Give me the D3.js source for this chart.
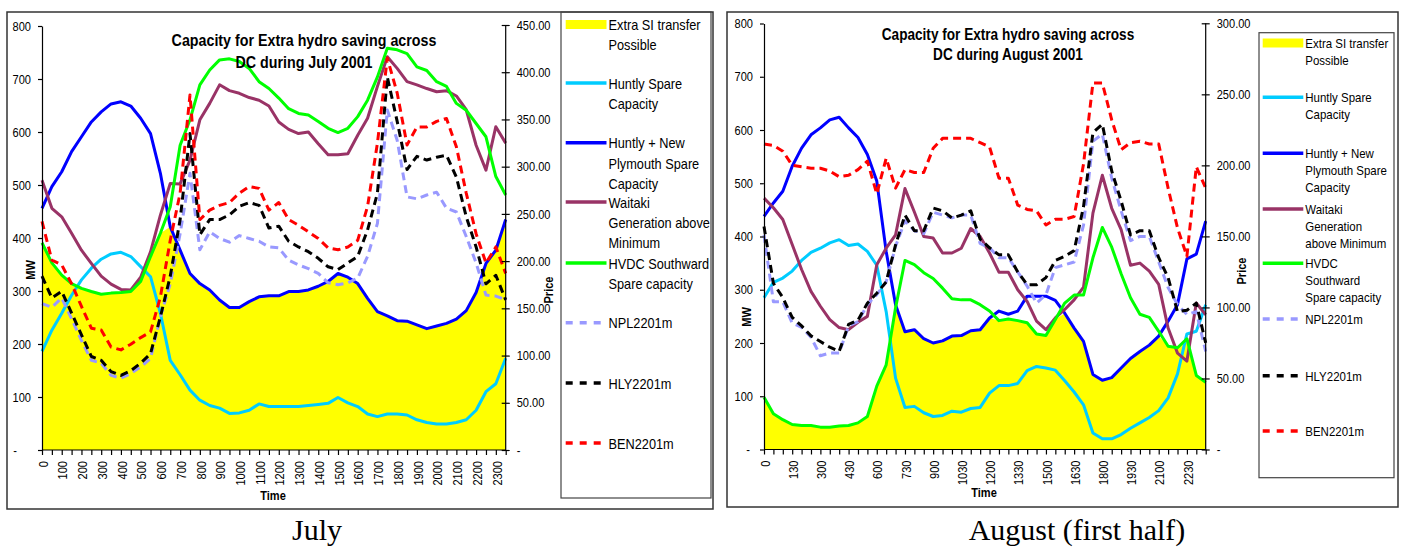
<!DOCTYPE html>
<html>
<head>
<meta charset="utf-8">
<script src="https://cdn.jsdelivr.net/npm/d3@7"></script>
<style>
  body { margin: 0; background: #fff; }
  svg text { font-family: Arial, "Liberation Sans", sans-serif; fill: #000; }
</style>
</head>
<body>
<svg id="chart" width="1403" height="552"></svg>
<script>
/* DATA */
// half-hourly trading periods
const times = ["0","30","100","130","200","230","300","330","400","430","500","530",
  "600","630","700","730","800","830","900","930","1000","1030","1100","1130",
  "1200","1230","1300","1330","1400","1430","1500","1530","1600","1630","1700","1730",
  "1800","1830","1900","1930","2000","2030","2100","2130","2200","2230","2300","2330"];

const mwTicks = [0, 100, 200, 300, 400, 500, 600, 700, 800];
const julyPriceTicks = [0, 50, 100, 150, 200, 250, 300, 350, 400, 450];
const augPriceTicks = [0, 50, 100, 150, 200, 250, 300];

const seriesNames = ["Extra SI transfer Possible", "Huntly Spare Capacity",
  "Huntly + New Plymouth Spare Capacity", "Waitaki Generation above Minimum",
  "HVDC Southward Spare capacity", "NPL2201m", "HLY2201m", "BEN2201m"];

// legend text as it wraps in each chart
const julyLegendLines = [["Extra SI transfer", "Possible"], ["Huntly Spare", "Capacity"],
  ["Huntly + New", "Plymouth Spare", "Capacity"], ["Waitaki", "Generation above", "Minimum"],
  ["HVDC Southward", "Spare capacity"], ["NPL2201m"], ["HLY2201m"], ["BEN2201m"]];
const augLegendLines = [["Extra SI transfer", "Possible"], ["Huntly Spare", "Capacity"],
  ["Huntly + New", "Plymouth Spare", "Capacity"], ["Waitaki", "Generation", "above Minimum"],
  ["HVDC", "Southward", "Spare capacity"], ["NPL2201m"], ["HLY2201m"], ["BEN2201m"]];

// July 2001 (MW)
const julyExtraSI = [391,353,330,314,305,299,294,296,297,299,318,365,409,421,377,333,314,302,283,269,269,280,289,291,
  291,299,299,302,309,318,333,326,314,286,261,253,244,243,236,229,234,239,247,263,297,352,377,435];
const julyHuntlySpare = [186,226,258,292,321,343,360,370,373,365,346,327,258,169,142,113,94,84,79,69,70,75,87,82,
  82,82,82,84,86,88,99,89,82,68,63,68,68,66,57,52,49,49,52,57,75,110,125,173];
const julyHuntlyNP = [456,497,525,563,591,619,638,653,657,649,626,597,522,421,377,333,314,302,283,269,269,280,289,291,
  291,299,299,302,309,318,333,326,314,286,261,253,244,243,236,229,234,239,247,263,297,352,377,435];
const julyWaitaki = [509,456,440,409,377,352,328,313,303,302,326,374,443,503,502,547,623,654,689,678,673,665,660,649,
  619,605,597,600,578,557,557,559,594,626,686,742,720,695,689,682,676,678,668,642,575,528,610,579];
const julyHVDC = [391,353,330,314,305,299,294,296,297,299,318,365,409,459,575,623,689,717,736,738,733,720,695,682,
  664,644,635,632,620,607,599,607,629,660,704,758,755,748,723,716,695,686,654,641,616,591,516,481];
// July 2001 (price)
const julyNPL = [155,151,161,139,116,95,92,79,76,81,88,97,141,176,229,293,212,231,224,220,227,224,221,215,
  214,201,196,192,187,177,175,177,182,205,240,360,328,268,266,270,273,256,252,226,198,164,163,159];
const julyHLY = [184,161,168,145,122,99,95,83,79,84,92,102,141,184,244,335,228,244,244,249,258,262,259,235,
  237,221,215,210,203,194,191,198,205,233,272,395,348,297,311,307,310,312,289,247,215,176,185,159];
const julyBEN = [242,201,196,176,152,129,127,109,106,112,119,125,162,222,272,376,244,254,259,262,272,279,277,254,
  262,244,238,231,224,214,212,215,222,258,325,415,378,323,342,342,348,351,321,272,229,198,215,187];

// August 2001, first half (MW)
const augExtraSI = [98,67,56,47,45,45,42,42,44,45,50,62,119,159,266,221,225,208,200,204,213,214,223,225,
  247,242,245,242,238,217,214,244,256,228,203,141,130,135,153,171,184,196,213,194,191,208,139,126];
const augHuntlySpare = [285,314,322,335,355,370,378,388,394,383,386,372,346,259,134,79,81,69,62,64,72,70,77,79,
  106,120,120,124,148,156,153,149,129,108,84,31,20,20,28,40,50,60,73,97,142,217,222,272];
const augHuntlyNP = [438,463,485,532,566,591,604,619,624,604,586,554,504,372,272,221,225,208,200,204,213,214,223,225,
  247,260,254,260,288,288,288,280,256,228,203,141,130,135,153,171,184,196,213,241,272,358,367,429];
const augWaitaki = [472,454,432,385,338,297,269,244,229,225,239,250,347,378,403,490,446,400,397,369,369,378,415,400,
  369,333,333,300,278,241,225,247,263,281,305,444,515,453,413,346,350,335,310,228,181,166,275,253];
const augHVDC = [98,67,56,47,45,45,42,42,44,45,50,62,119,159,266,355,347,332,321,303,283,281,281,272,
  260,242,245,242,238,217,214,244,275,290,290,360,417,380,330,285,254,248,222,194,191,208,139,126];
// August 2001 (price)
const augNPL = [151,104,104,89,86,79,66,68,68,87,90,102,109,118,143,161,154,152,167,165,163,165,165,145,
  142,135,135,125,115,103,109,128,130,132,158,217,222,191,168,147,150,150,132,114,102,95,97,69];
const augHLY = [157,117,107,93,87,80,76,72,69,88,91,103,110,118,144,165,154,154,170,168,163,165,168,148,
  142,137,137,125,116,116,121,133,136,140,171,223,229,196,175,151,154,154,135,121,97,98,103,75];
const augBEN = [215,214,210,200,199,198,198,196,192,193,197,203,180,205,184,197,195,195,212,219,219,219,219,216,
  213,191,191,172,169,168,158,162,162,164,201,258,258,232,211,216,217,215,215,184,156,136,199,184];

/* STYLES */
const colors = ["#ffff00", "#00ccff", "#0000ff", "#993366", "#00ff00", "#9999ff", "#000000", "#ff0000"];
const dashed = [false, false, false, false, false, true, true, true];
const NARROW = 0.85; // the original uses a condensed face, squeeze Arial to match

const svg = d3.select("#chart");

// squeeze text horizontally, keeps its anchor
function condense(sel, f) {
  sel.each(function () {
    const len = this.getComputedTextLength();
    if (len > 0) d3.select(this).attr("textLength", len * f).attr("lengthAdjust", "spacingAndGlyphs");
  });
}

function drawChart(cfg) {
  const g = svg.append("g");

  // outer frame
  g.append("rect")
    .attr("x", cfg.frame[0]).attr("y", cfg.frame[1])
    .attr("width", cfg.frame[2]).attr("height", cfg.frame[3])
    .attr("fill", "none").attr("stroke", "#333").attr("stroke-width", 1.5);

  const x = d3.scalePoint().domain(times).range([cfg.left, cfg.right]);
  const yMW = d3.scaleLinear().domain([0, 800]).range([cfg.bottom, cfg.top]);
  const yPrice = d3.scaleLinear().domain([0, cfg.priceMax]).range([cfg.bottom, cfg.priceTop]);

  // yellow area
  g.append("path")
    .datum(cfg.values[0])
    .attr("fill", colors[0])
    .attr("d", d3.area()
      .x((d, i) => x(times[i]))
      .y0(yMW(0))
      .y1(d => yMW(d)));

  // lines, MW series then price series
  const line = scale => d3.line().x((d, i) => x(times[i])).y(d => scale(d));
  cfg.values.slice(1).forEach((vals, k) => {
    const s = k + 1;
    g.append("path")
      .datum(vals)
      .attr("fill", "none")
      .attr("stroke", colors[s])
      .attr("stroke-width", 3)
      .attr("stroke-linejoin", "round")
      .attr("stroke-dasharray", dashed[s] ? "8,5" : null)
      .attr("d", line(s >= 5 ? yPrice : yMW));
  });

  // left axis (MW)
  const gL = g.append("g")
    .attr("transform", `translate(${cfg.left},0)`)
    .call(d3.axisLeft(yMW).tickValues(mwTicks).tickSize(4).tickSizeOuter(0).tickPadding(7)
      .tickFormat(d => d === 0 ? "-" : d));
  gL.selectAll("text").attr("font-size", 13).attr("font-family", null);
  gL.selectAll(".tick").filter(d => d === 0).select("text").attr("x", cfg.zeroX);

  // right axis (price)
  const gR = g.append("g")
    .attr("transform", `translate(${cfg.right},0)`)
    .call(d3.axisRight(yPrice).tickValues(cfg.priceTicks).tickSize(4).tickSizeOuter(0).tickPadding(7)
      .tickFormat(d => d === 0 ? "-" : d3.format(".2f")(d)));
  gR.selectAll(".tick line").attr("x1", -4).attr("x2", 4);
  gR.selectAll("text").attr("font-size", 13).attr("font-family", null);
  gR.select(".domain").attr("d", `M0,${cfg.priceTop}V${cfg.bottom}`);

  // bottom axis (time)
  const gB = g.append("g")
    .attr("transform", `translate(0,${cfg.bottom})`)
    .call(d3.axisBottom(x).tickSize(5).tickSizeOuter(0)
      .tickFormat((d, i) => i % cfg.labelEvery === 0 ? d : ""));
  gB.selectAll("text")
    .attr("font-size", 13).attr("font-family", null)
    .attr("transform", "rotate(-90)")
    .attr("text-anchor", "end")
    .attr("x", -11).attr("y", 0).attr("dy", "0.4em");
  gB.select(".domain").attr("d", `M${cfg.left},0H${cfg.right}`);

  g.selectAll(".domain, .tick line").attr("stroke", "#000").attr("stroke-width", 1.2);
  condense(g.selectAll(".tick text"), NARROW);

  // axis titles
  const titles = g.append("g").attr("font-weight", "bold").attr("font-size", 13);
  titles.append("text").text("MW")
    .attr("transform", `translate(${cfg.mwLabel[0]},${cfg.mwLabel[1]}) rotate(-90)`)
    .attr("text-anchor", "middle");
  titles.append("text").text("Price")
    .attr("transform", `translate(${cfg.priceLabel[0]},${cfg.priceLabel[1]}) rotate(-90)`)
    .attr("text-anchor", "middle");
  titles.append("text").text("Time")
    .attr("x", cfg.timeLabel[0]).attr("y", cfg.timeLabel[1])
    .attr("text-anchor", "middle");
  condense(titles.selectAll("text"), NARROW);

  // chart title
  const head = g.append("g");
  cfg.title.forEach((t, i) => {
    head.append("text").text(t)
      .attr("x", cfg.titlePos[0]).attr("y", cfg.titlePos[1] + i * cfg.titleStep)
      .attr("text-anchor", "middle").attr("font-weight", "bold").attr("font-size", cfg.titleSize);
  });
  condense(head.selectAll("text"), NARROW);

  // legend
  const lg = cfg.legend;
  const leg = g.append("g");
  leg.append("rect")
    .attr("x", lg.box[0]).attr("y", lg.box[1]).attr("width", lg.box[2]).attr("height", lg.box[3])
    .attr("fill", "none").attr("stroke", "#444").attr("stroke-width", 1.2);
  cfg.legendLines.forEach((lines, s) => {
    const cy = lg.ys[s];
    if (s === 0) {
      leg.append("rect").attr("x", lg.x0).attr("y", cy - 4.5)
        .attr("width", lg.x1 - lg.x0).attr("height", 9).attr("fill", colors[0]);
    } else {
      leg.append("line").attr("x1", lg.x0).attr("x2", lg.x1).attr("y1", cy).attr("y2", cy)
        .attr("stroke", colors[s]).attr("stroke-width", 3.5)
        .attr("stroke-dasharray", dashed[s] ? "7,7" : null);
    }
    lines.forEach((t, j) => {
      leg.append("text").text(t)
        .attr("x", lg.x1 + 2).attr("y", cy + lg.baseline + j * lg.step)
        .attr("font-size", lg.size);
    });
  });
  condense(leg.selectAll("text"), NARROW);

  // caption below the chart
  svg.append("text").text(cfg.caption)
    .attr("x", cfg.captionPos[0]).attr("y", cfg.captionPos[1])
    .attr("text-anchor", "middle")
    .style("font-family", "'Liberation Serif', 'Times New Roman', serif")
    .attr("font-size", 30);
}

drawChart({
  frame: [7, 12, 706, 497],
  left: 42, right: 505.7, top: 26, bottom: 450, priceTop: 25,
  priceMax: 450, priceTicks: julyPriceTicks, labelEvery: 2, zeroX: -25,
  values: [julyExtraSI, julyHuntlySpare, julyHuntlyNP, julyWaitaki, julyHVDC, julyNPL, julyHLY, julyBEN],
  mwLabel: [35, 270], priceLabel: [553, 290], timeLabel: [273, 500],
  title: ["Capacity for Extra hydro saving across", "DC during July 2001"],
  titlePos: [304, 45.7], titleStep: 22.6, titleSize: 16.8,
  legendLines: julyLegendLines,
  legend: { box: [561, 12, 150, 486], x0: 565.7, x1: 606.5, size: 15, step: 20.3, baseline: 5.5,
    ys: [24.5, 83, 142.7, 202, 263, 322.7, 383, 443] },
  caption: "July", captionPos: [317, 540]
});

drawChart({
  frame: [727, 12, 671, 495],
  left: 764, right: 1205.7, top: 23.5, bottom: 449.5, priceTop: 23.3,
  priceMax: 300, priceTicks: augPriceTicks, labelEvery: 3, zeroX: -14,
  values: [augExtraSI, augHuntlySpare, augHuntlyNP, augWaitaki, augHVDC, augNPL, augHLY, augBEN],
  mwLabel: [751, 317], priceLabel: [1246, 271], timeLabel: [984, 497],
  title: ["Capacity for Extra hydro saving across", "DC during August 2001"],
  titlePos: [1008, 40], titleStep: 20, titleSize: 16,
  legendLines: augLegendLines,
  legend: { box: [1259, 32.7, 135, 445], x0: 1262.7, x1: 1303.3, size: 13.5, step: 17, baseline: 5,
    ys: [43, 97.3, 153.3, 209, 263.3, 319, 375.7, 431] },
  caption: "August (first half)", captionPos: [1077, 540]
});
</script>
</body>
</html>
